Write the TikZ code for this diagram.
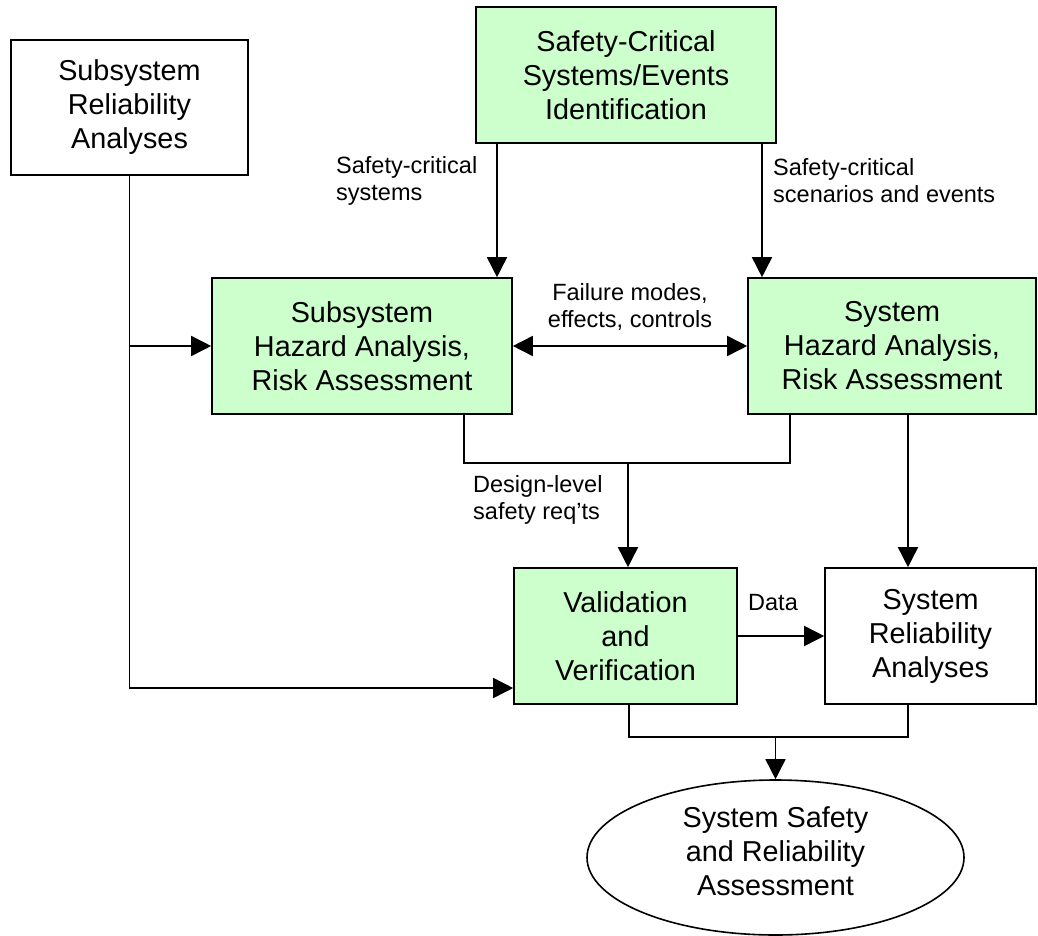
\documentclass[tikz,border=0pt]{standalone}
\usepackage{fontspec}
\setmainfont{Liberation Sans}
\usetikzlibrary{arrows.meta,shapes.geometric}
\definecolor{palegreen}{HTML}{CCFFCC}
\begin{document}
\begin{tikzpicture}[x=1pt,y=-1pt,
  blockbox/.style={draw=black,line width=1.6pt,rectangle,inner sep=0pt,
    align=center,font=\fontsize{28.8}{34}\selectfont},
  greenbox/.style={blockbox,fill=palegreen},
  whitebox/.style={blockbox,fill=white},
  goalshape/.style={draw=black,line width=1.6pt,ellipse,inner sep=0pt,
    minimum width=377pt,minimum height=155pt},
  bigtext/.style={inner sep=0pt,align=center,font=\fontsize{28.8}{34}\selectfont},
  smalltext/.style={inner sep=0pt,font=\fontsize{23.5}{27}\selectfont},
  link/.style={draw=black,line width=1.6pt},
  arrowlink/.style={link,-{Triangle[length=20pt,width=20pt]}},
  bothlink/.style={link,{Triangle[length=20pt,width=20pt]}-{Triangle[length=20pt,width=20pt]}}
]
\useasboundingbox (0,0) rectangle (1038,936);

% blocks
\node[whitebox,minimum width=237pt,minimum height=135pt] (sra) at (129.5,107.5)
  {Subsystem\\Reliability\\Analyses};
\node[greenbox,minimum width=300pt,minimum height=136pt] (scid) at (626,75)
  {Safety-Critical\\Systems/Events\\Identification};
\node[greenbox,minimum width=300pt,minimum height=136pt] (sha) at (362,346)
  {Subsystem\\Hazard Analysis,\\Risk Assessment};
\node[greenbox,minimum width=288pt,minimum height=136pt] (syha) at (892,346)
  {System\\Hazard Analysis,\\Risk Assessment};
\node[greenbox,minimum width=223pt,minimum height=136pt] (vv) at (625.5,636)
  {Validation\\and\\Verification};
\node[whitebox,minimum width=211pt,minimum height=136pt] (syra) at (930.5,636)
  {System\\Reliability\\Analyses};
\node[goalshape] (goal) at (775.5,857.5) {};
\node[bigtext] (goaltext) at ([yshift=6pt]goal.center)
  {System Safety\\and Reliability\\Assessment};

% connector junctions
\coordinate (sysout) at ([xshift=-129pt]scid.south);
\coordinate (evout) at ([xshift=136pt]scid.south);
\coordinate (vvlow) at ([yshift=-52pt]vv.west);
\coordinate (shaout) at ([xshift=102pt]sha.south);
\coordinate (syhaout) at ([xshift=-102pt]syha.south);
\coordinate (reqjoin) at (628,463);
\coordinate (relout) at ([xshift=16pt]syha.south);
\coordinate (vvout) at ([xshift=3.5pt]vv.south);
\coordinate (syraout) at ([xshift=-22.5pt]syra.south);
\coordinate (outjoin) at (775.5,737);

% connectors
\draw[arrowlink] (sra.south) |- (vvlow);
\draw[arrowlink] (sra.south |- sha.west) -- (sha.west);
\draw[arrowlink] (sysout) -- (sysout |- sha.north);
\draw[arrowlink] (evout) -- (evout |- syha.north);
\draw[bothlink] (sha.east) -- (syha.west);
\draw[link] (shaout) |- (reqjoin) -| (syhaout);
\draw[arrowlink] (reqjoin) -- (reqjoin |- vv.north);
\draw[arrowlink] (relout) -- (relout |- syra.north);
\draw[arrowlink] (vv.east) -- (syra.west);
\draw[link] (vvout) |- (outjoin) -| (syraout);
\draw[arrowlink] (outjoin) -- (goal.north);

% connector labels
\node[smalltext,align=left,anchor=west] (lblsys) at (336,181)
  {Safety-critical\\systems};
\node[smalltext,align=left,anchor=west] (lblev) at (773,181)
  {Safety-critical\\scenarios and events};
\node[smalltext,align=center] (lblfm) at (630,307)
  {Failure modes,\\effects, controls};
\node[smalltext,align=left,anchor=west] (lblreq) at (473,500)
  {Design-level\\safety req’ts};
\node[smalltext,anchor=west] (lbldata) at (748,603) {Data};
\end{tikzpicture}
\end{document}
